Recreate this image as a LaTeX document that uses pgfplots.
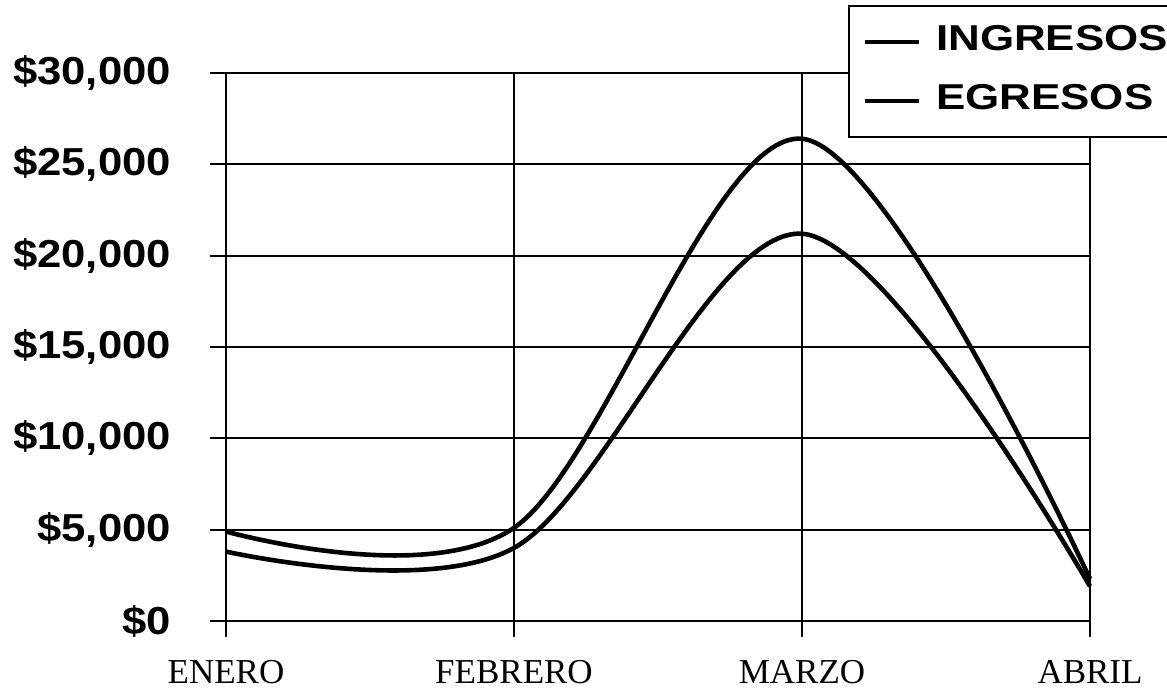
\documentclass[border=0pt]{standalone}
\usepackage{fontspec}
\usepackage{pgfplots}
\pgfplotsset{compat=1.18}
\setmainfont{Liberation Serif}
\newfontfamily\ylab[FakeStretch=1.12]{Liberation Sans Bold}
\newfontfamily\leglab[FakeStretch=1.22]{Liberation Sans Bold}
\begin{document}
\begin{tikzpicture}
\begin{axis}[
  scale only axis,
  width=432pt, height=274pt,
  xmin=0, xmax=3, ymin=0, ymax=30000,
  scaled y ticks=false,
  axis lines=left,
  axis line style={black, line width=1pt, -},
  xtick={0,1,2,3},
  xticklabels={ENERO,FEBRERO,MARZO,ABRIL},
  ytick={0,5000,10000,15000,20000,25000,30000},
  yticklabels={{\$0},{\$5,000},{\$10,000},{\$15,000},{\$20,000},{\$25,000},{\$30,000}},
  tick align=outside,
  major tick length=8pt,
  tick style={black, line width=1pt},
  grid=major,
  major grid style={black, line width=0.9pt},
  yticklabel style={font=\ylab\fontsize{19.5}{20}\selectfont, anchor=east, xshift=-16pt},
  xticklabel style={font=\fontsize{17.5}{18}\selectfont, anchor=north, yshift=-8pt},
  legend style={at={(rel axis cs:0.7199,1.1241)}, anchor=north west, draw=black, line width=1pt,
    font=\leglab\fontsize{18}{18}\selectfont, inner xsep=7pt, inner ysep=7.5pt,
    nodes={text height=13pt, text depth=4pt, inner xsep=8pt},
    row sep=8.5pt, legend cell align=left},
  legend image code/.code={\draw[line width=1.6pt] (0cm,0cm) -- (27pt,0cm);},
  clip=false,
]
\addplot[black, line width=2.3pt, smooth, tension=0.55] coordinates {(0,4900) (1,5100) (2,26400) (3,2300)};
\addlegendentry{INGRESOS}
\addplot[black, line width=2.3pt, smooth, tension=0.55] coordinates {(0,3800) (1,4000) (2,21200) (3,1900)};
\addlegendentry{EGRESOS}
\coordinate (bbsw) at (rel axis cs:0,0);
\coordinate (bbnw) at (rel axis cs:0,1);
\end{axis}
\pgfresetboundingbox
\path ([xshift=-113pt,yshift=-34pt]bbsw) rectangle ([xshift=470.5pt,yshift=36.5pt]bbnw);
\end{tikzpicture}
\end{document}
